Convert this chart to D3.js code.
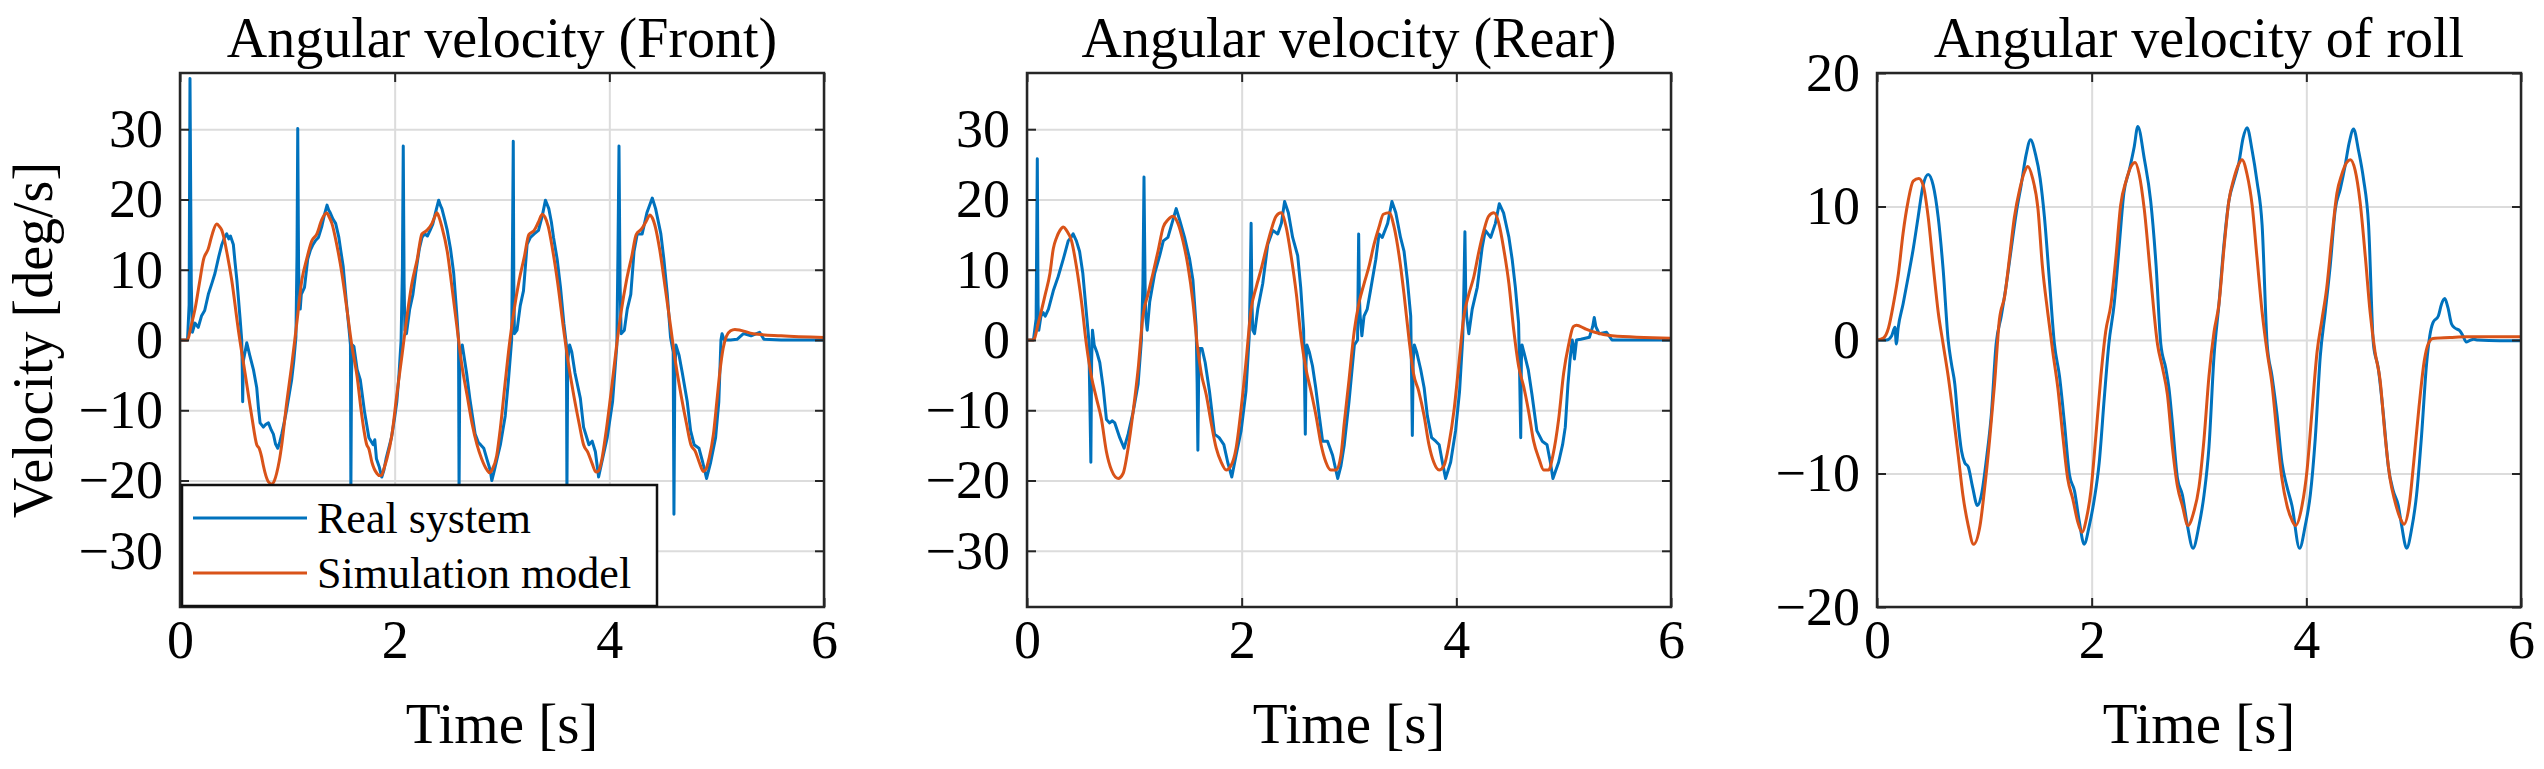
<!DOCTYPE html>
<html>
<head>
<meta charset="utf-8">
<script src="https://cdn.jsdelivr.net/npm/d3@7"></script>
<style>
	body { margin: 0; background: #fff; }
	text { font-family: "Liberation Serif", "Times New Roman", serif; fill: #000; }
</style>
</head>
<body>
<svg id="chart"></svg>
<script>
// ---- data ----
var titles = ["Angular velocity (Front)", "Angular velocity (Rear)", "Angular velocity of roll"];
var timeTicks = [0, 2, 4, 6];
var velocityTicks = [-30, -20, -10, 0, 10, 20, 30];
var rollTicks = [-20, -10, 0, 10, 20];
var legendLabels = ["Real system", "Simulation model"];

// [time s, velocity deg/s]
var frontReal = [[0,0],[0.07,0],[0.085,5],[0.093,37.2],[0.105,8],[0.115,1.1],[0.14,2.4],[0.17,1.8],[0.2,3.4],[0.23,4.2],[0.264,6.5],[0.3,8.2],[0.326,9.5],[0.36,11.8],[0.39,13.6],[0.415,14.6],[0.435,15.1],[0.455,14.4],[0.47,14.8],[0.497,13.6],[0.513,11],[0.53,8.5],[0.544,6],[0.56,3],[0.575,0],[0.58,-4],[0.584,-8.8],[0.59,-3],[0.606,-1.7],[0.622,-0.4],[0.65,-2.2],[0.684,-4.2],[0.715,-6.8],[0.73,-9.5],[0.746,-11.8],[0.777,-12.4],[0.8,-12],[0.824,-11.8],[0.85,-12.8],[0.87,-13.4],[0.89,-14.8],[0.911,-15.4],[0.93,-14.5],[0.948,-13.4],[0.97,-11.8],[0.995,-9.8],[1.02,-7.5],[1.04,-5.7],[1.06,-3],[1.08,0.4],[1.09,12],[1.097,30.1],[1.105,10],[1.113,6.5],[1.12,4.4],[1.13,6.5],[1.16,7.5],[1.19,11.5],[1.215,12.8],[1.24,13.6],[1.265,14.2],[1.29,14.6],[1.32,16.1],[1.345,17.8],[1.37,19.2],[1.385,18.5],[1.4,18.1],[1.425,17.2],[1.45,16.6],[1.48,14.6],[1.5,12.5],[1.52,10.5],[1.55,5.4],[1.575,1.5],[1.588,-0.7],[1.592,-22],[1.598,-5],[1.605,-0.7],[1.62,-0.9],[1.65,-4.2],[1.68,-5.7],[1.72,-10.3],[1.76,-13.9],[1.8,-14.9],[1.815,-14.2],[1.83,-16.9],[1.855,-18],[1.88,-19.5],[1.9,-18.5],[1.92,-16.9],[1.97,-13.9],[2,-11],[2.02,-8.8],[2.04,-5],[2.06,0],[2.072,10],[2.08,27.6],[2.088,8],[2.095,1.4],[2.11,0.9],[2.14,4.4],[2.17,6.5],[2.2,10],[2.23,13],[2.255,14.6],[2.28,15.1],[2.305,14.8],[2.33,15.6],[2.355,16.5],[2.38,18.1],[2.41,19.9],[2.425,19.2],[2.44,18.7],[2.465,17.2],[2.49,15.6],[2.52,13],[2.55,9.5],[2.58,3.4],[2.595,0],[2.6,-22],[2.607,-3],[2.615,-1.7],[2.63,-0.7],[2.67,-4.7],[2.7,-8.3],[2.75,-13.4],[2.78,-14.6],[2.8,-14.9],[2.83,-15.4],[2.86,-17],[2.89,-18.5],[2.905,-20],[2.93,-18.5],[2.96,-16.5],[2.985,-14.9],[3.03,-10.8],[3.06,-5.7],[3.09,0],[3.098,14],[3.105,28.3],[3.11,8],[3.116,0.9],[3.14,1.4],[3.17,4.9],[3.2,7],[3.234,13.6],[3.265,14.6],[3.3,15.1],[3.34,15.6],[3.374,17.6],[3.405,19.9],[3.436,18.7],[3.46,16.8],[3.48,14.6],[3.514,11.5],[3.545,7.5],[3.576,2.4],[3.6,-0.7],[3.605,-22],[3.612,-3],[3.63,-0.7],[3.65,-1.7],[3.68,-4.7],[3.73,-8.3],[3.76,-12.4],[3.81,-14.9],[3.84,-14.4],[3.87,-15.9],[3.9,-19.5],[3.93,-17.4],[3.98,-13.9],[4.03,-8.8],[4.07,-0.7],[4.08,12],[4.09,27.6],[4.1,8],[4.11,0.9],[4.14,1.4],[4.167,4.4],[4.2,6.5],[4.23,12.6],[4.26,15.1],[4.306,15.1],[4.35,18.1],[4.4,20.2],[4.431,18.7],[4.48,15.1],[4.508,11.5],[4.54,6.5],[4.57,0.4],[4.595,-1.7],[4.602,-24.8],[4.61,-5],[4.62,-0.7],[4.65,-2.2],[4.68,-4.7],[4.726,-8.8],[4.757,-12.9],[4.79,-14.9],[4.835,-15.4],[4.87,-17.4],[4.906,-19.7],[4.944,-17.4],[4.99,-13.9],[5.02,-8.8],[5.04,0],[5.05,0.9],[5.07,0],[5.13,0],[5.19,0.1],[5.25,0.9],[5.32,0.6],[5.4,1.1],[5.44,0.1],[5.6,0],[6,0]];
var frontSim = [[0,0],[0.07,0],[0.1,1.8],[0.14,4.4],[0.18,8],[0.22,11.5],[0.264,13],[0.29,14.5],[0.311,15.6],[0.342,16.5],[0.365,16.2],[0.39,15.6],[0.41,14.5],[0.435,12.6],[0.482,8.5],[0.544,1.4],[0.606,-4.7],[0.668,-10.8],[0.715,-14.9],[0.74,-15.5],[0.76,-16.6],[0.777,-17.9],[0.8,-19.3],[0.824,-20.2],[0.855,-20.5],[0.88,-20],[0.9,-19],[0.925,-17.2],[0.948,-14.9],[0.995,-8.8],[1.04,-3.7],[1.088,2.4],[1.135,8.5],[1.18,11.5],[1.228,14.1],[1.275,15.1],[1.32,17.1],[1.345,17.8],[1.368,18.1],[1.39,17.5],[1.415,16.6],[1.46,13.6],[1.508,9.5],[1.555,4.4],[1.6,-0.7],[1.65,-5.2],[1.69,-10.3],[1.74,-14.9],[1.76,-15.5],[1.788,-17.4],[1.835,-19],[1.86,-19.3],[1.88,-19.2],[1.9,-18.3],[1.928,-16.9],[1.975,-13.4],[2.02,-7.8],[2.068,-2.2],[2.115,3.4],[2.16,8],[2.21,11.5],[2.254,15.1],[2.3,15.6],[2.348,16.6],[2.375,17.6],[2.394,18.1],[2.415,17.4],[2.44,16.1],[2.49,12.6],[2.534,7.5],[2.58,1.9],[2.627,-3.7],[2.674,-7.8],[2.72,-11.8],[2.767,-14.9],[2.81,-16.9],[2.86,-18.5],[2.885,-18.9],[2.91,-18.4],[2.95,-16.5],[2.985,-12.5],[3.03,-6],[3.07,-0.5],[3.11,4],[3.16,8.5],[3.21,12],[3.25,15],[3.3,15.6],[3.34,16.8],[3.375,17.9],[3.4,17.5],[3.43,16.2],[3.47,13],[3.52,8],[3.57,2],[3.62,-3.5],[3.67,-8],[3.72,-12],[3.76,-14.9],[3.8,-16],[3.84,-17.6],[3.875,-18.8],[3.9,-18.6],[3.93,-17],[3.97,-13],[4.02,-7],[4.07,-0.5],[4.11,4],[4.16,8.5],[4.21,12],[4.25,15],[4.3,15.8],[4.34,16.8],[4.38,17.8],[4.4,17.4],[4.43,16],[4.47,12.8],[4.52,7.5],[4.57,2],[4.62,-3.5],[4.67,-8],[4.72,-12],[4.76,-14.9],[4.8,-15.8],[4.84,-17.5],[4.875,-18.7],[4.9,-18.4],[4.93,-16.8],[4.97,-13.4],[5,-9],[5.03,-4.5],[5.06,-1.2],[5.09,0.5],[5.13,1.3],[5.17,1.5],[5.22,1.4],[5.34,0.9],[5.6,0.6],[6,0.35]];

var rearReal = [[0,0],[0.06,0],[0.085,3],[0.096,25.8],[0.103,5],[0.11,1.4],[0.13,3.4],[0.15,3.9],[0.17,3.4],[0.2,4.4],[0.245,7],[0.29,9],[0.338,11.5],[0.384,14.1],[0.41,14.6],[0.43,15.1],[0.46,14.1],[0.49,12.6],[0.52,9.5],[0.55,4.4],[0.576,0],[0.585,-8],[0.595,-17.4],[0.602,-3],[0.61,1.4],[0.626,-0.7],[0.65,-1.7],[0.678,-3.2],[0.71,-6.8],[0.74,-11.3],[0.77,-11.8],[0.795,-11.5],[0.818,-11.8],[0.864,-13.9],[0.905,-15.4],[0.942,-13.4],[0.988,-10.3],[1.035,-6.3],[1.066,0],[1.08,8],[1.09,23.2],[1.1,8],[1.106,3.4],[1.12,1.4],[1.143,5.4],[1.19,9.5],[1.236,12],[1.27,14.1],[1.313,14.6],[1.36,17.1],[1.39,18.7],[1.422,17.1],[1.468,14.6],[1.515,11.5],[1.546,8.5],[1.576,1.9],[1.585,-6],[1.592,-15.7],[1.6,-4],[1.608,-1.2],[1.63,-1.2],[1.66,-3.2],[1.7,-7.3],[1.747,-13.4],[1.79,-13.9],[1.834,-14.9],[1.87,-17.4],[1.908,-19.5],[1.948,-16.4],[1.995,-12.9],[2.04,-7.3],[2.07,0.4],[2.08,8],[2.088,16.6],[2.095,6],[2.103,1.4],[2.12,0.9],[2.15,4.4],[2.196,8],[2.243,13.6],[2.29,15.6],[2.336,15.1],[2.37,16.6],[2.4,19.7],[2.435,18.1],[2.475,14.6],[2.522,12],[2.55,7.5],[2.577,1.4],[2.585,-5],[2.593,-13.4],[2.6,-3],[2.608,-0.7],[2.63,-1.7],[2.66,-3.7],[2.69,-6.8],[2.723,-10.8],[2.754,-14.4],[2.8,-14.4],[2.847,-16.4],[2.895,-19.7],[2.925,-17.9],[2.956,-14.9],[3,-8.8],[3.05,-0.7],[3.08,0],[3.085,8],[3.09,15.1],[3.097,6],[3.104,3.4],[3.12,0.6],[3.14,3.4],[3.17,4.4],[3.2,7],[3.25,11.5],[3.28,15.1],[3.31,14.6],[3.36,16.6],[3.4,19.7],[3.436,18.1],[3.48,14.6],[3.513,12.6],[3.544,8.5],[3.575,3.4],[3.583,-5],[3.59,-13.6],[3.598,-3],[3.609,-0.7],[3.63,-1.7],[3.668,-4.2],[3.7,-6.8],[3.73,-10.8],[3.77,-13.9],[3.808,-14.4],[3.84,-14.9],[3.87,-17.4],[3.9,-19.7],[3.947,-17.4],[3.993,-12.9],[4.03,-7.3],[4.06,0.4],[4.07,7],[4.08,15.4],[4.088,6],[4.096,3.4],[4.116,0.9],[4.148,4.4],[4.195,7.5],[4.24,13.1],[4.27,15.6],[4.32,14.6],[4.364,16.6],[4.4,19.4],[4.44,18.1],[4.49,14.6],[4.52,11.5],[4.55,7.5],[4.58,2.4],[4.59,-5],[4.6,-13.9],[4.606,-3],[4.612,-0.7],[4.637,-2.2],[4.67,-4.2],[4.705,-7.8],[4.75,-12.9],[4.8,-14.4],[4.845,-14.9],[4.876,-17.4],[4.9,-19.7],[4.953,-17.4],[4.99,-14.9],[5.015,-12.4],[5.04,-6.3],[5.06,-2.7],[5.08,0],[5.09,-0.7],[5.1,-2.7],[5.12,0],[5.16,0.1],[5.24,0.4],[5.27,1.9],[5.285,3.2],[5.3,1.9],[5.33,0.9],[5.4,1.1],[5.45,0],[6,0]];
var rearSim = [[0,0],[0.06,0],[0.105,2.4],[0.17,6.5],[0.214,9.5],[0.245,13],[0.276,14.6],[0.307,15.6],[0.338,16.1],[0.368,15.6],[0.415,14.1],[0.46,10.5],[0.508,5.4],[0.554,-0.7],[0.6,-5.2],[0.647,-8.3],[0.694,-11.3],[0.74,-15.9],[0.787,-18.5],[0.85,-19.7],[0.895,-19],[0.942,-15.4],[0.988,-10.3],[1.035,-4.2],[1.08,3.4],[1.127,6.5],[1.174,9.5],[1.22,12.6],[1.27,16.1],[1.313,17.1],[1.36,17.6],[1.406,16.6],[1.453,14.1],[1.5,10.5],[1.546,5.4],[1.586,-0.7],[1.623,-4.7],[1.67,-7.8],[1.716,-11.8],[1.763,-15.4],[1.81,-17.4],[1.856,-18.5],[1.9,-17.9],[1.948,-15.4],[1.995,-9.8],[2.04,-3.2],[2.088,4.4],[2.135,7.5],[2.18,10],[2.23,13.1],[2.274,15.6],[2.32,17.6],[2.367,18.1],[2.414,16.1],[2.46,12],[2.51,6.5],[2.553,0.4],[2.6,-4.2],[2.646,-7.3],[2.693,-10.8],[2.74,-14.9],[2.785,-17.4],[2.83,-18.5],[2.878,-18.5],[2.925,-16.4],[2.956,-11.8],[3,-5.7],[3.05,1.4],[3.095,5.4],[3.14,8],[3.187,10.5],[3.233,13.6],[3.28,16.1],[3.32,17.9],[3.374,18.1],[3.42,16.1],[3.467,12],[3.513,6.5],[3.56,0],[3.6,-4.7],[3.65,-7.3],[3.7,-10.8],[3.745,-14.9],[3.79,-17.4],[3.84,-18.5],[3.885,-17.9],[3.93,-14.9],[3.98,-9.8],[4.025,-3.2],[4.07,3.4],[4.116,6.5],[4.163,9],[4.21,12.6],[4.257,15.6],[4.3,17.6],[4.35,18.1],[4.396,16.6],[4.44,13.1],[4.49,8],[4.535,1.4],[4.58,-3.7],[4.63,-6.8],[4.675,-10.3],[4.72,-14.4],[4.77,-16.9],[4.814,-18.5],[4.86,-18.5],[4.9,-16.4],[4.953,-11.3],[5,-4.7],[5.046,-0.7],[5.09,1.9],[5.12,2.1],[5.2,1.6],[5.29,1.1],[5.45,0.6],[6,0.25]];

var rollReal = [[0,0],[0.09,0],[0.136,0.3],[0.167,0.95],[0.18,-0.3],[0.197,0.9],[0.243,2.7],[0.29,4.7],[0.337,6.8],[0.383,9.2],[0.43,11.6],[0.477,12.4],[0.523,11.6],[0.57,9.2],[0.616,5.3],[0.663,0],[0.694,-1.8],[0.725,-3.3],[0.756,-6.2],[0.787,-8.3],[0.818,-9.2],[0.85,-9.5],[0.89,-11],[0.936,-12.4],[0.973,-11.6],[1.02,-8.9],[1.065,-5.6],[1.11,-0.3],[1.158,1.8],[1.2,3.9],[1.25,6.8],[1.297,9.5],[1.343,11.6],[1.39,13.9],[1.43,15],[1.477,13.9],[1.52,12.1],[1.56,9.2],[1.607,4.4],[1.653,-0.3],[1.7,-2.7],[1.746,-6.2],[1.793,-10.1],[1.84,-11.3],[1.885,-13.6],[1.93,-15.3],[1.978,-13.9],[2.025,-11.9],[2.07,-9.2],[2.117,-4.4],[2.16,-0.3],[2.21,2.7],[2.257,7.1],[2.3,11],[2.35,12.7],[2.397,14.5],[2.43,16],[2.49,13.6],[2.55,10.4],[2.6,5.6],[2.644,-0.3],[2.69,-2.1],[2.72,-3.6],[2.752,-6.2],[2.8,-10.4],[2.845,-11.6],[2.892,-13.9],[2.944,-15.6],[3,-13.9],[3.047,-11.6],[3.093,-8],[3.14,-1.2],[3.186,2.7],[3.232,7.1],[3.278,10.4],[3.325,11.9],[3.372,13.3],[3.41,15.1],[3.448,15.9],[3.495,14.2],[3.54,11.9],[3.588,8.6],[3.635,-0.3],[3.68,-2.7],[3.727,-5.6],[3.773,-9.2],[3.82,-11],[3.866,-12.4],[3.937,-15.6],[3.99,-13.9],[4.037,-11.6],[4.083,-7.4],[4.13,-1.2],[4.176,2.1],[4.223,5.6],[4.27,9.8],[4.316,11.3],[4.36,13],[4.4,14.8],[4.44,15.8],[4.486,14.2],[4.532,12.1],[4.58,8.6],[4.625,-0.3],[4.67,-2.1],[4.718,-5.6],[4.764,-9.5],[4.81,-11.3],[4.857,-12.4],[4.888,-13.9],[4.935,-15.6],[4.98,-14.2],[5.027,-11.6],[5.074,-7.1],[5.12,-1.8],[5.15,0.3],[5.18,1.3],[5.23,1.8],[5.26,2.7],[5.29,3.1],[5.32,2.4],[5.353,1.2],[5.384,0.9],[5.43,0.7],[5.46,0.3],[5.49,-0.15],[5.52,-0.05],[5.56,0.05],[5.6,0],[5.8,-0.05],[6,-0.05]];
var rollSim = [[0,0],[0.06,0.15],[0.107,0.9],[0.153,2.7],[0.2,5],[0.243,8],[0.29,10.4],[0.337,11.9],[0.39,12.1],[0.43,11.6],[0.477,9.2],[0.523,5.6],[0.57,2.1],[0.616,-0.3],[0.663,-2.7],[0.71,-5.6],[0.756,-8.6],[0.8,-11.6],[0.85,-13.9],[0.9,-15.3],[0.96,-13.9],[1,-11.3],[1.05,-7.4],[1.095,-3.3],[1.14,1.5],[1.19,3.3],[1.235,6.2],[1.28,9.2],[1.33,11.3],[1.375,12.6],[1.405,13],[1.45,12.1],[1.5,9.8],[1.54,5.6],[1.59,2.1],[1.638,-0.9],[1.685,-3.6],[1.73,-7.1],[1.777,-10.4],[1.824,-11.9],[1.87,-13.6],[1.91,-14.4],[1.953,-13.3],[1.993,-11.3],[2.04,-7.1],[2.086,-2.7],[2.13,0.6],[2.18,2.7],[2.226,6.2],[2.27,10.1],[2.32,11.9],[2.366,13],[2.405,13.3],[2.443,12.4],[2.49,9.8],[2.55,4.7],[2.613,-0.3],[2.66,-2.1],[2.706,-4.1],[2.752,-8],[2.8,-11],[2.845,-12.4],[2.898,-13.9],[2.947,-13],[3,-11],[3.047,-7.4],[3.093,-2.7],[3.14,0.6],[3.186,2.7],[3.232,6.8],[3.278,10.4],[3.325,12.1],[3.372,13.2],[3.4,13.5],[3.448,12.4],[3.495,10.1],[3.54,6.2],[3.588,2.1],[3.635,-0.9],[3.68,-3.3],[3.727,-7.1],[3.773,-10.4],[3.82,-12.4],[3.866,-13.5],[3.9,-13.9],[3.96,-12.4],[4.006,-9.8],[4.05,-5.6],[4.1,-0.9],[4.145,1.5],[4.19,3.9],[4.238,7.7],[4.285,11],[4.33,12.4],[4.377,13.3],[4.41,13.5],[4.455,12.7],[4.5,10.4],[4.55,6.2],[4.594,2.1],[4.64,-0.9],[4.687,-3],[4.733,-7.1],[4.78,-10.4],[4.826,-12.1],[4.872,-13.3],[4.91,-13.8],[4.958,-12.4],[5,-9.2],[5.05,-5],[5.1,-1.5],[5.135,-0.3],[5.18,0.12],[5.337,0.18],[5.49,0.24],[6,0.24]];

// ---- layout ----
var W = 2544, H = 769;
var plotTop = 73, plotBottom = 607, plotW = 644;
var plotLefts = [180, 1027, 1877];
var blue = "#0072BD", orange = "#D95319";
var serif = "Liberation Serif";

var svg = d3.select("#chart").attr("width", W).attr("height", H);
svg.append("rect").attr("width", W).attr("height", H).attr("fill", "#fff");

var panels = [
	{ title: titles[0], real: frontReal, sim: frontSim, domain: [-38, 38], ticks: velocityTicks },
	{ title: titles[1], real: rearReal, sim: rearSim, domain: [-38, 38], ticks: velocityTicks },
	{ title: titles[2], real: rollReal, sim: rollSim, domain: [-20, 20], ticks: rollTicks }
];

panels.forEach(function(p, i){
	var left = plotLefts[i];
	var h = plotBottom - plotTop;
	var x = d3.scaleLinear().domain([0, 6]).range([0, plotW]);
	var y = d3.scaleLinear().domain(p.domain).range([h, 0]);
	var g = svg.append("g").attr("transform", "translate(" + left + "," + plotTop + ")");

	// grid
	var gx = g.append("g").attr("transform", "translate(0," + h + ")")
		.call(d3.axisBottom(x).tickValues(timeTicks).tickSize(-h).tickFormat(""));
	var gy = g.append("g")
		.call(d3.axisLeft(y).tickValues(p.ticks).tickSize(-plotW).tickFormat(""));
	[gx, gy].forEach(function(a){
		a.select(".domain").remove();
		a.selectAll("line").attr("stroke", "#dcdcdc").attr("stroke-width", 2);
	});

	// lines
	var clipId = "clip" + i;
	g.append("clipPath").attr("id", clipId)
		.append("rect").attr("width", plotW).attr("height", h);
	var lineReal = d3.line().x(function(d){ return x(d[0]); }).y(function(d){ return y(d[1]); });
	var lineSim = d3.line().curve(d3.curveMonotoneX)
		.x(function(d){ return x(d[0]); }).y(function(d){ return y(d[1]); });
	if (i == 2) lineReal.curve(d3.curveMonotoneX);
	var lines = g.append("g").attr("clip-path", "url(#" + clipId + ")");
	lines.append("path").datum(p.real).attr("d", lineReal)
		.attr("fill", "none").attr("stroke", blue).attr("stroke-width", 3).attr("stroke-linejoin", "round");
	lines.append("path").datum(p.sim).attr("d", lineSim)
		.attr("fill", "none").attr("stroke", orange).attr("stroke-width", 3).attr("stroke-linejoin", "round");

	// axes with inward ticks
	var fmt = d3.format("d");
	var ax = g.append("g").attr("transform", "translate(0," + h + ")")
		.call(d3.axisBottom(x).tickValues(timeTicks).tickFormat(fmt).tickSize(-9).tickSizeOuter(0).tickPadding(13));
	var ay = g.append("g")
		.call(d3.axisLeft(y).tickValues(p.ticks).tickFormat(fmt).tickSize(-9).tickSizeOuter(0).tickPadding(17));
	var at = g.append("g")
		.call(d3.axisTop(x).tickValues(timeTicks).tickSize(-9).tickSizeOuter(0).tickFormat(""));
	var ar = g.append("g").attr("transform", "translate(" + plotW + ",0)")
		.call(d3.axisRight(y).tickValues(p.ticks).tickSize(-9).tickSizeOuter(0).tickFormat(""));
	[ax, ay, at, ar].forEach(function(a){
		a.attr("font-family", serif).attr("font-size", 54);
		a.select(".domain").remove();
		a.selectAll("line").attr("stroke", "#262626").attr("stroke-width", 2);
		a.selectAll("text").attr("fill", "#222");
	});
	g.append("rect").attr("width", plotW).attr("height", h)
		.attr("fill", "none").attr("stroke", "#262626").attr("stroke-width", 2.5);

	// title and axis label
	svg.append("text").attr("x", left + plotW / 2).attr("y", 57)
		.attr("text-anchor", "middle").attr("font-size", 56).text(p.title);
	svg.append("text").attr("x", left + plotW / 2).attr("y", 743)
		.attr("text-anchor", "middle").attr("font-size", 57).attr("fill", "#222").text("Time [s]");
});

svg.append("text").attr("transform", "translate(52,340) rotate(-90)")
	.attr("text-anchor", "middle").attr("font-size", 56).attr("fill", "#222").text("Velocity [deg/s]");

// legend (front panel)
var legend = svg.append("g");
legend.append("rect").attr("x", 182).attr("y", 485).attr("width", 475).attr("height", 121)
	.attr("fill", "#fff").attr("stroke", "#111").attr("stroke-width", 2.5);
[blue, orange].forEach(function(c, k){
	var ly = 518 + k * 55;
	legend.append("line").attr("x1", 193).attr("x2", 307).attr("y1", ly).attr("y2", ly)
		.attr("stroke", c).attr("stroke-width", 3);
	legend.append("text").attr("x", 317).attr("y", ly + 15)
		.attr("font-size", 44).text(legendLabels[k]);
});
</script>
</body>
</html>
